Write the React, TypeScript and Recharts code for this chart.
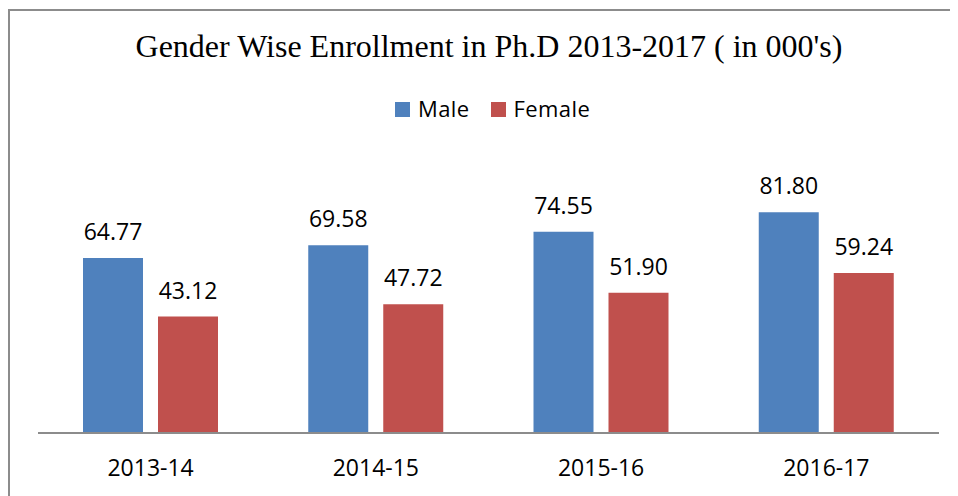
import React from 'react';
import { BarChart, Bar, XAxis, YAxis, LabelList, Legend } from 'recharts';

const categories = ['2013-14', '2014-15', '2015-16', '2016-17'];
const maleValues = [64.77, 69.58, 74.55, 81.8];
const femaleValues = [43.12, 47.72, 51.9, 59.24];
const seriesNames = ['Male', 'Female'];
const title = "Gender Wise Enrollment in Ph.D 2013-2017 ( in 000's)";

const data = categories.map((c, i) => ({ name: c, male: maleValues[i], female: femaleValues[i] }));

const BLUE = '#4F81BD';
const RED = '#C0504D';
const FONT = '"Open Sans", sans-serif';

const renderLegend = (props: any) => {
  const payload = [...(props.payload || [])].sort(
    (a: any, b: any) => seriesNames.indexOf(a.value) - seriesNames.indexOf(b.value)
  );
  return (
    <div style={{ display: 'flex', alignItems: 'flex-start', fontFamily: FONT, fontSize: 22, lineHeight: '22px', color: '#000', whiteSpace: 'nowrap' }}>
      {payload.map((p: any, i: number) => (
        <div key={i} style={{ display: 'flex', alignItems: 'flex-start', marginRight: i === 0 ? 21 : 0 }}>
          <span style={{ display: 'inline-block', width: 15, height: 15, background: p.color, marginTop: 5, marginRight: 8 }} />
          <span style={{ letterSpacing: 0.4 }}>{p.value}</span>
        </div>
      ))}
    </div>
  );
};

const fmt = (v: number) => v.toFixed(2);

export default function App() {
  return (
    <div style={{ position: 'relative', width: 950, height: 488, overflow: 'hidden', background: '#fff' }}>
      <div style={{ position: 'absolute', left: 0, top: 1, width: 980, height: 520, borderTop: '2px solid #8c8c8c', borderLeft: '2px solid #8c8c8c' }} />
      <div style={{ position: 'absolute', left: 0, top: 22.2, width: 962, textAlign: 'center', fontFamily: '"Liberation Serif", "Times New Roman", serif', fontSize: 32, lineHeight: '32px', color: '#000', whiteSpace: 'nowrap' }}>
        {title}
      </div>
      <div style={{ position: 'absolute', left: 0, top: 0 }}>
        <BarChart width={950} height={488} data={data} margin={{ top: 182, right: 19, bottom: 0, left: 30 }} barSize={60} barGap={15}>
          <XAxis dataKey="name" height={63} tickLine={false} tickSize={0} tickMargin={27}
            axisLine={{ stroke: '#8c8c8c', strokeWidth: 2 }}
            tick={{ fill: '#000', fontFamily: FONT, fontSize: 23 }} interval={0} />
          <YAxis hide domain={[0, 90]} />
          <Legend content={renderLegend} itemSorter={null as any}
            wrapperStyle={{ position: 'absolute', left: 387, top: 89, width: 'auto', height: 0, overflow: 'visible' }} />
          <Bar dataKey="male" name={seriesNames[0]} fill={BLUE} isAnimationActive={false}>
            <LabelList dataKey="male" position="top" offset={18} formatter={fmt as any} style={{ fill: '#000', fontFamily: FONT, fontSize: 23 }} />
          </Bar>
          <Bar dataKey="female" name={seriesNames[1]} fill={RED} isAnimationActive={false}>
            <LabelList dataKey="female" position="top" offset={18} formatter={fmt as any} style={{ fill: '#000', fontFamily: FONT, fontSize: 23 }} />
          </Bar>
        </BarChart>
      </div>
    </div>
  );
}
